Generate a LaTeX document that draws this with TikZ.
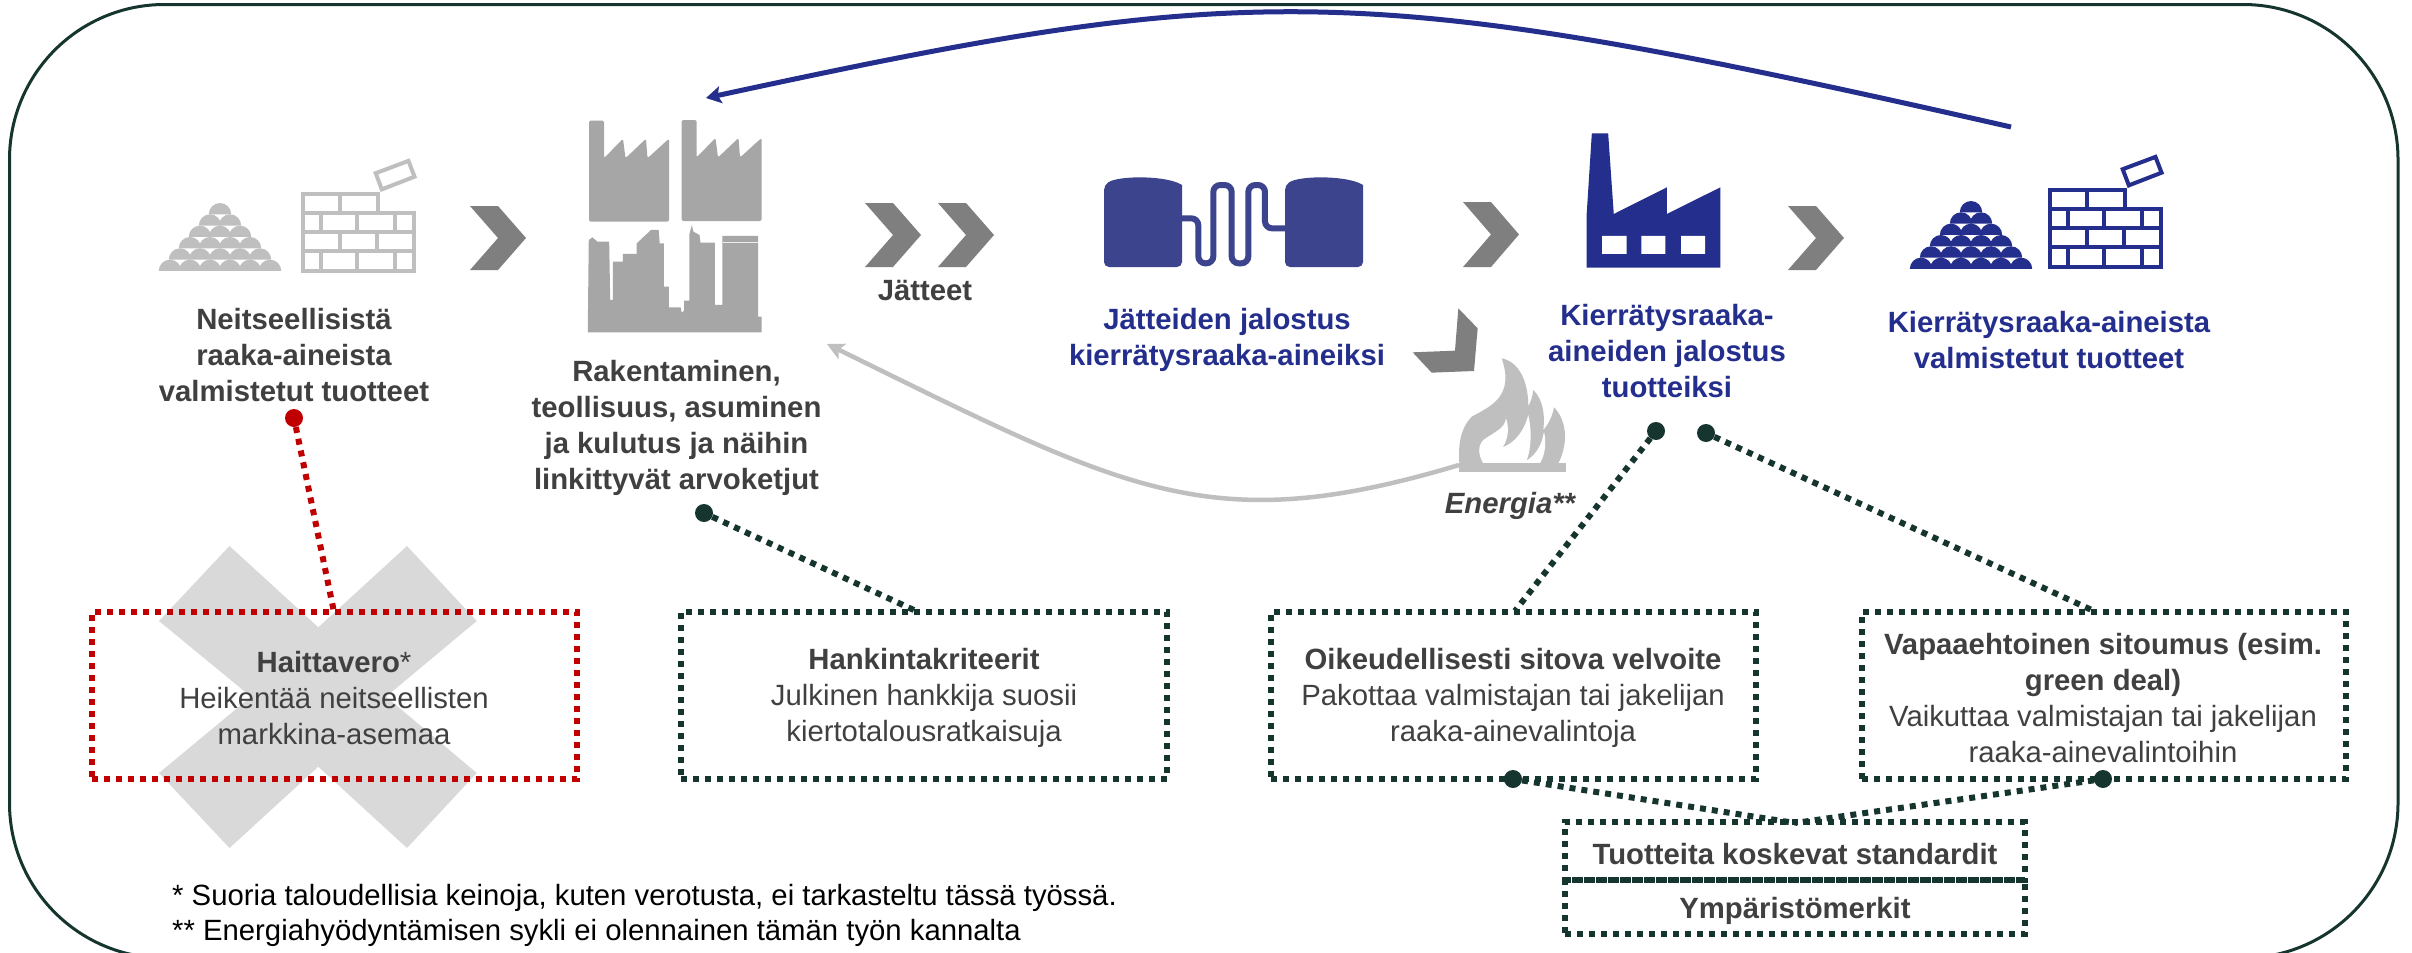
\documentclass[tikz,border=0pt]{standalone}
\usepackage{fontspec}
\setmainfont{Liberation Sans}
\usetikzlibrary{arrows.meta}
\definecolor{txt}{HTML}{404040}
\definecolor{bluet}{HTML}{242E8C}
\definecolor{tank}{HTML}{3B448C}
\definecolor{dark}{HTML}{17352F}
\definecolor{redd}{HTML}{C00000}
\definecolor{chev}{HTML}{7F7F7F}
\definecolor{pale}{HTML}{BFBFBF}
\definecolor{fact}{HTML}{A6A6A6}
\definecolor{xgray}{HTML}{D9D9D9}
\tikzset{
  lab/.style={align=center,font=\fontsize{29.3}{36}\selectfont\bfseries,text=txt,inner sep=0pt},
  bluelab/.style={lab,text=bluet},
  body/.style={align=center,font=\fontsize{29.3}{36}\selectfont,text=txt,inner sep=0pt},
  foot/.style={anchor=base west,font=\fontsize{29.3}{35}\selectfont,text=black,inner sep=0pt},
  dashbox/.style={draw=dark,line width=6pt,dash pattern=on 6pt off 6pt,rectangle,inner sep=0pt},
  redbox/.style={dashbox,draw=redd},
  dotd/.style={circle,fill=dark,inner sep=0pt,minimum size=18pt},
  dotr/.style={dotd,fill=redd},
  darkline/.style={draw=dark,line width=6pt,dash pattern=on 6pt off 6pt},
  redline/.style={draw=redd,line width=6pt,dash pattern=on 6pt off 6pt},
}
\newcommand\chevshape[3]{% x, ytop, ybottom
  \fill[chev] (#1,#2) -- ++(28,0) -- ({#1+56},{(#2+#3)/2}) -- ({#1+28},#3) -- (#1,#3) -- ({#1+28},{(#2+#3)/2}) -- cycle;}
\newcommand\wallicon[4]{% x,y,colour,line width
  \begin{scope}[shift={(#1,#2)},x=111pt,y=-77pt,draw=#3,line width=#4,line join=miter]
    \draw (0,0) -- (.676,0) -- (.676,.245) -- (1,.245) -- (1,1) -- (0,1) -- cycle;
    \draw (0,.245) -- (.676,.245) (0,.49) -- (1,.49) (0,.735) -- (1,.735);
    \draw (.33,0) -- (.33,.245);
    \draw (.16,.245) -- (.16,.49) (.49,.245) -- (.49,.49) (.83,.245) -- (.83,.49);
    \draw (.33,.49) -- (.33,.735) (.67,.49) -- (.67,.735);
    \draw (.16,.735) -- (.16,1) (.49,.735) -- (.49,1) (.83,.735) -- (.83,1);
    \draw (.655,-.27) -- (.95,-.43) -- (1.005,-.225) -- (.71,-.06) -- cycle;
  \end{scope}}
\newcommand\pileicon[3]{% xcentre,ytop,colour
  \foreach \r in {1,...,6}{
    \foreach \c in {1,...,\r}{
      \fill[#3] ({#1+20*(\c-(\r+1)/2)-11.2},{#2+11.33*\r}) arc[start angle=180,end angle=0,x radius=11.2pt,y radius=11.33pt] -- cycle;
    }}}
\newcommand\facticon[2]{%
  \fill[fact,rounded corners=1.5pt,shift={(#1,#2)}] (0,0) -- (15,0) -- (15,37.5) -- (34,18) -- (36.5,37.5) -- (57,18) -- (58.5,37.5) -- (80,18) -- (80,101) -- (0,101) -- cycle;}
\newcommand\tankicon[1]{%
  \fill[tank,shift={(#1,0)}] (0,185) .. controls (15,175.3) and (63,175.3) .. (78,185) [rounded corners=5pt] -- (78,267) -- (0,267) -- cycle;}
\begin{document}
\begin{tikzpicture}[x=1pt,y=-1pt]
\useasboundingbox (0,0) rectangle (2412,953);
\clip (0,0) rectangle (2412,953);
\fill[white] (0,0) rectangle (2412,953);
% outer frame
\draw[dark,line width=3pt,rounded corners=155pt] (9.5,4.5) rectangle (2398,958);

% flows
\coordinate (blueS) at (2011,127);
\coordinate (blueE) at (706,98);
\draw[bluet,line width=5pt,-{Stealth[length=15pt,width=17pt,inset=3pt]}] (blueS) .. controls (1359,-21) and (1256,-21) .. (blueE);
\coordinate (grayS) at (1459,465);
\coordinate (grayE) at (827,344);
\draw[pale,line width=4.5pt,-{Stealth[length=17pt,width=17pt,inset=4pt]}] (grayS) .. controls (1209,540) and (1127,491) .. (grayE);

% gray pile + wall
\pileicon{220}{203}{pale}
\wallicon{303}{194}{pale}{4pt}
% factories
\facticon{589}{120.7}
\facticon{681.5}{120}
% city
\begin{scope}[shift={(100,100)},x=0.5102pt,y=-0.3333pt]
\fill[fact] (956,697) -- (958,420) -- (965,412) -- (975,425) -- (998,425) -- (1000,600) -- (1005,600) -- (1005,485) -- (1025,485) -- (1025,462) -- (1052,462) -- (1052,430) -- (1080,390) -- (1095,390) -- (1097,430) -- (1105,430) -- (1105,560) -- (1115,560) -- (1115,622) -- (1138,622) -- (1140,638) -- (1145,632) -- (1145,602) -- (1155,602) -- (1155,405) -- (1160,375) -- (1163,395) -- (1175,405) -- (1177,428) -- (1205,428) -- (1205,615) -- (1220,615) -- (1220,408) -- (1290,408) -- (1290,650) -- (1297,650) -- (1297,697) -- cycle;
\draw[white!80!fact,line width=1pt] (1222,427) -- (1290,427);
\end{scope}
% chevrons
\chevshape{470}{206}{270}
\chevshape{865}{203}{267}
\chevshape{938}{203}{267}
\chevshape{1463}{202}{267}
\chevshape{1788}{206}{270}
% tanks
\tankicon{1104}
\tankicon{1285}
\begin{scope}[shift={(1090,165)},x=0.3333pt,y=-0.3333pt]
\draw[tank,line width=6pt,rounded corners=7pt] (265,160) -- (325,160) -- (325,295) -- (370,295) -- (370,60) -- (425,60) -- (425,295) -- (475,295) -- (475,60) -- (525,60) -- (525,190) -- (595,190);
\end{scope}
% blue factory
\begin{scope}[shift={(1000,100)},x=0.5102pt,y=-0.3333pt]
\fill[bluet] (1150,503) -- (1150,340) -- (1160,100) -- (1192,100) -- (1203,342) -- (1307,262) -- (1307,342) -- (1412,262) -- (1412,503) -- cycle;
\fill[white] (1180,408) rectangle (1228,462) (1257,408) rectangle (1304,462) (1335,408) rectangle (1382,462);
\end{scope}
% bent chevron + flame
\begin{scope}[shift={(1400,300)},x=0.3333pt,y=-0.3333pt]
\fill[chev] (175,25) -- (233,85) -- (222,213) -- (95,218) -- (38,157) -- (165,152) -- cycle;
\fill[pale] (178,490) .. controls (175,440) and (178,390) .. (215,350) .. controls (270,320) and (345,290) .. (305,175) .. controls (355,185) and (385,240) .. (385,320) .. controls (392,305) and (398,290) .. (400,270) .. controls (430,300) and (435,345) .. (430,390) .. controls (448,370) and (458,345) .. (462,322) .. controls (495,355) and (510,420) .. (475,490) -- cycle;
\fill[white] (250,490) .. controls (235,465) and (232,440) .. (250,420) .. controls (285,395) and (315,385) .. (318,355) .. controls (328,385) and (325,415) .. (308,442) .. controls (340,430) and (370,400) .. (385,345) .. controls (395,390) and (395,440) .. (380,482) .. controls (405,465) and (425,440) .. (432,395) .. controls (440,430) and (435,465) .. (420,490) -- cycle;
\fill[pale] (178,490) rectangle (497,516);
\end{scope}
% blue pile + wall
\pileicon{1971}{201}{bluet}
\wallicon{2050}{190}{bluet}{4pt}

% red X
\fill[xgray] (229.5,546) -- (318.3,627.3) -- (407,546) -- (476.7,621) -- (386,696.7) -- (476.7,773) -- (407,848) -- (318.3,766.7) -- (229.5,848) -- (159,773) -- (251,696.7) -- (159,621) -- cycle;

% labels
\node[lab] (l1) at (294,355) {Neitseellisistä\\raaka-aineista\\valmistetut tuotteet};
\node[lab] (l2) at (676.5,428) {Rakentaminen,\\teollisuus, asuminen\\ja kulutus ja näihin\\linkittyvät arvoketjut};
\node[lab] (l3) at (925,290) {Jätteet};
\node[bluelab] (l4) at (1227,340) {Jätteiden jalostus\\kierrätysraaka-aineiksi};
\node[bluelab] (l5) at (1667,351) {Kierrätysraaka-\\aineiden jalostus\\tuotteiksi};
\node[bluelab] (l6) at (2049,340) {Kierrätysraaka-aineista\\valmistetut tuotteet};
\node[lab,font=\fontsize{29.3}{36}\selectfont\bfseries\itshape] (l7) at (1510,506) {Energia**};

% boxes
\node[redbox,minimum width=485pt,minimum height=167pt] (bH) at (334.5,695.5) {};
\node[body] (tH) at (334,698) {\textbf{Haittavero}*\\Heikentää neitseellisten\\markkina-asemaa};
\node[dashbox,minimum width=486pt,minimum height=167pt] (bK) at (924,695.5) {};
\node[body] (tK) at (924,698) {\textbf{Hankintakriteerit}\\Julkinen hankkija suosii\\kiertotalousratkaisuja};
\node[dashbox,minimum width=485pt,minimum height=167pt] (bO) at (1513.5,695.5) {};
\node[body] (tO) at (1513,698) {\textbf{Oikeudellisesti sitova velvoite}\\Pakottaa valmistajan tai jakelijan\\raaka-ainevalintoja};
\node[dashbox,minimum width=484pt,minimum height=167pt] (bV) at (2104,695.5) {};
\node[body] (tV) at (2103,698) {\textbf{Vapaaehtoinen sitoumus (esim.}\\\textbf{green deal)}\\Vaikuttaa valmistajan tai jakelijan\\raaka-ainevalintoihin};
\node[dashbox,minimum width=459.5pt,minimum height=58pt] (bT) at (1795,851) {};
\node[lab] (tT) at (1795,854) {Tuotteita koskevat standardit};
\node[dashbox,minimum width=459.5pt,minimum height=54pt] (bY) at (1795,907) {};
\node[lab] (tY) at (1795,911) {Ympäristömerkit};

% dots
\node[dotr] (d1) at (294,418) {};
\node[dotd] (d2) at (704,513) {};
\node[dotd] (d3) at (1656,431) {};
\node[dotd] (d4) at (1706,433) {};
\node[dotd] (d5) at (1513,779) {};
\node[dotd] (d6) at (2103,779) {};
% connector ends
\coordinate (e1) at (334,612);
\coordinate (e2) at (916,611);
\coordinate (e3) at (1515,611);
\coordinate (e4) at (2096,612);
\coordinate (e5) at (1795,823);
\draw[redline] (d1) -- (e1);
\draw[darkline] (d2) -- (e2);
\draw[darkline] (d3) -- (e3);
\draw[darkline] (d4) -- (e4);
\draw[darkline] (d5) -- (e5);
\draw[darkline] (d6) -- (e5);

% footnotes
\node[foot] (f1) at (172,905) {* Suoria taloudellisia keinoja, kuten verotusta, ei tarkasteltu tässä työssä.};
\node[foot] (f2) at (172,940) {** Energiahyödyntämisen sykli ei olennainen tämän työn kannalta};
\end{tikzpicture}
\end{document}
